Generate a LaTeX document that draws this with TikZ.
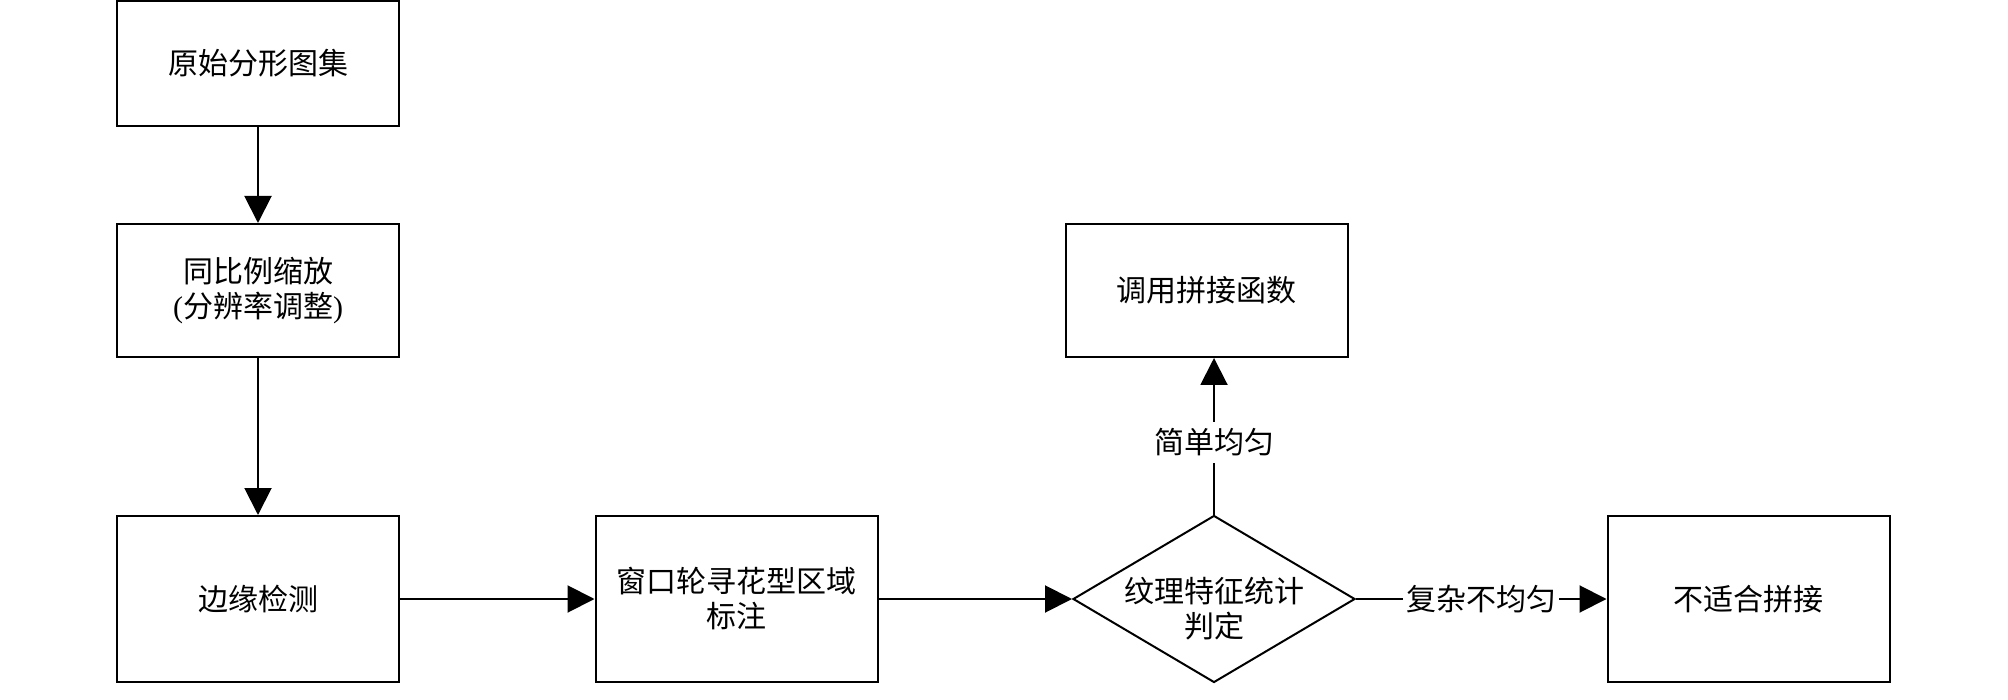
\documentclass[tikz,border=0pt]{standalone}
\usepackage{fontspec}
\setmainfont{Liberation Serif}
\newfontfamily\cjk{Noto Sans CJK SC}
\usetikzlibrary{shapes.geometric,arrows.meta}
\begin{document}
\begin{tikzpicture}[x=1pt,y=-1pt,
  every node/.style={font=\cjk\fontsize{30}{35}\selectfont, align=center},
  procbox/.style={draw, line width=2pt, rectangle, minimum width=282pt, inner sep=0pt},
  decbox/.style={draw, line width=2pt, diamond, minimum width=282pt, minimum height=167pt, inner sep=0pt},
  conn/.style={line width=2pt, -{Triangle[length=27pt,width=27pt]}},
  lbl/.style={fill=white, inner xsep=3pt, inner ysep=7pt}
]
\useasboundingbox (0,0) rectangle (2008,700);
\node[procbox, minimum height=125pt] (b1) at (258,63.5) {原始分形图集};
\node[procbox, minimum height=133pt] (b2) at (258,290.5) {同比例缩放\\{\rmfamily(}分辨率调整{\rmfamily)}};
\node[procbox, minimum height=166pt] (b3) at (258,599) {边缘检测};
\node[procbox, minimum height=166pt] (b4) at (736.5,599) {窗口轮寻花型区域\\标注};
\node[decbox] (d) at (1214,599) {};
\node (dt) at (1214,609) {纹理特征统计\\判定};
\node[procbox, minimum height=133pt] (b6) at (1206.5,290.5) {调用拼接函数};
\node[procbox, minimum height=166pt] (b5) at (1748.5,599) {不适合拼接};
\draw[conn] (b1) -- (b2);
\draw[conn] (b2) -- (b3);
\draw[conn] (b3) -- (b4);
\draw[conn] (b4) -- (d);
\draw[conn] (d.north) -- node[lbl, pos=0.46] {简单均匀} (d.north |- b6.south);
\draw[conn] (d.east) -- node[lbl] {复杂不均匀} (b5.west);
\end{tikzpicture}
\end{document}
